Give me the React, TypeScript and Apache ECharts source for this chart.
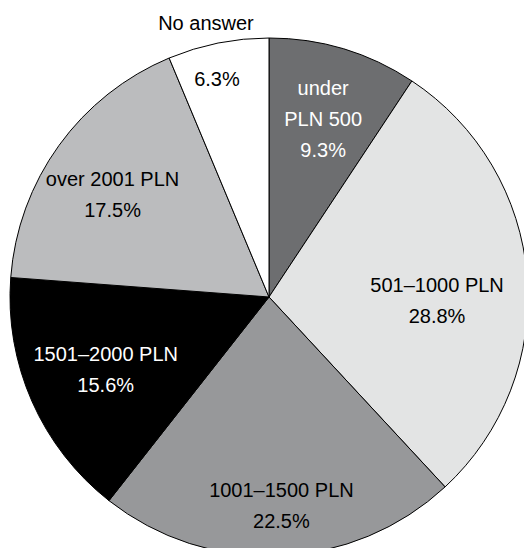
import React, { useEffect, useRef } from "react";
import * as echarts from "echarts";

const categories = [
  "under\nPLN 500",
  "501–1000 PLN",
  "1001–1500 PLN",
  "1501–2000 PLN",
  "over 2001 PLN",
  "No answer",
];
const values = [9.3, 28.8, 22.5, 15.6, 17.5, 6.3];
const colors = ["#6d6e70", "#e3e4e4", "#97989a", "#000000", "#bbbcbe", "#ffffff"];
const textColors = ["#ffffff", "#000000", "#000000", "#ffffff", "#000000", "#000000"];
// label nudges relative to ECharts' default inner position
const labelOffsets: [number, number][] = [
  [16, -51],
  [36, 14],
  [7, 76],
  [-42, 19],
  [-49, -25],
  [-26, -116],
];

export default function App() {
  const ref = useRef<HTMLDivElement>(null);
  useEffect(() => {
    if (!ref.current) return;
    const chart = echarts.init(ref.current, null, { renderer: "svg" });
    const font = "'Liberation Sans', Arial, sans-serif";
    chart.setOption({
      animation: false,
      backgroundColor: "#ffffff",
      series: [
        {
          type: "pie",
          center: [269, 297],
          radius: 259,
          startAngle: 90,
          clockwise: true,
          avoidLabelOverlap: false,
          labelLine: { show: false },
          itemStyle: { borderColor: "#000000", borderWidth: 1 },
          emphasis: { disabled: true },
          labelLayout: (p: any) => {
            const o = labelOffsets[p.dataIndex] || [0, 0];
            return { dx: o[0], dy: o[1] };
          },
          data: categories.map((name, i) => {
            const isNoAnswer = name === "No answer";
            return {
              name,
              value: values[i],
              itemStyle: { color: colors[i] },
              label: {
                show: true,
                position: "inner",
                fontFamily: font,
                fontSize: 20,
                color: textColors[i],
                lineHeight: isNoAnswer ? 56 : 31,
                align: "center",
                formatter: isNoAnswer
                  ? "{a|" + name + "}\n{b|" + values[i].toFixed(1) + "%}"
                  : name + "\n" + values[i].toFixed(1) + "%",
                rich: isNoAnswer
                  ? {
                      a: {
                        fontFamily: font,
                        fontSize: 20,
                        color: "#000000",
                        lineHeight: 56,
                        padding: [0, 22, 0, 0],
                      },
                      b: {
                        fontFamily: font,
                        fontSize: 20,
                        color: "#000000",
                        lineHeight: 56,
                      },
                    }
                  : undefined,
              },
            };
          }),
        },
      ],
    });
    return () => chart.dispose();
  }, []);
  return (
    <div
      ref={ref}
      style={{ position: "fixed", left: 0, top: 0, width: 524, height: 548 }}
    />
  );
}
